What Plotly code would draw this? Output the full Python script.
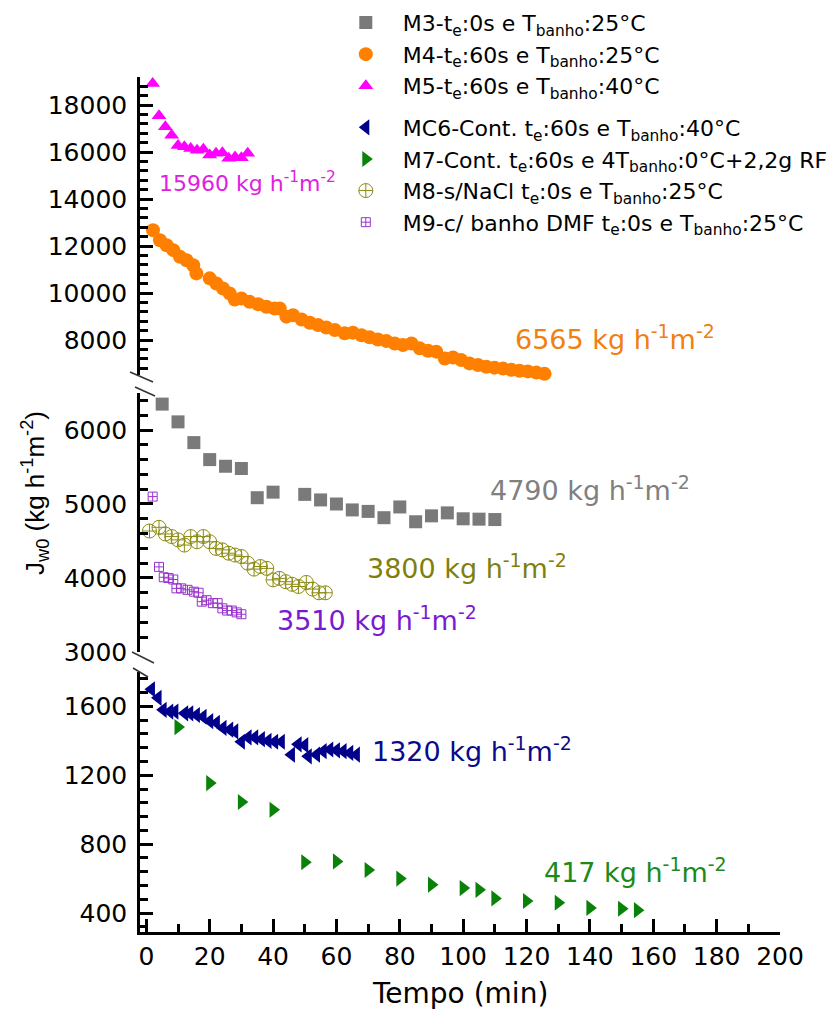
import plotly.graph_objects as go

# ---- series (time in min, flux in kg h^-1 m^-2) ----
m3_t = [5, 10, 15, 20, 25, 30, 35, 40, 50, 55, 60, 65, 70, 75, 80, 85, 90, 95, 100, 105, 110]
m3_v = [6350, 6110, 5830, 5600, 5510, 5480, 5085, 5160, 5130, 5055, 5000, 4920, 4900, 4815,
        4960, 4760, 4840, 4880, 4800, 4795, 4790]

m4_t = [2.1, 4.3, 6.4, 8.5, 10.6, 12.7, 14.8, 15.8, 20.0, 22.1, 24.2, 26.3, 27.9, 30.0, 32.6,
        35.3, 37.9, 40.5, 42.1, 44.2, 46.3, 49.0, 51.6, 54.2, 56.8, 59.5, 62.6, 65.2, 67.9,
        70.5, 73.1, 75.8, 78.4, 81.0, 83.7, 86.3, 88.9, 91.5, 94.2, 96.8, 99.4, 102.0, 104.7,
        107.3, 109.9, 112.6, 115.2, 117.8, 120.4, 123.1, 125.7]
m4_v = [12680, 12255, 12040, 11830, 11550, 11400, 11190, 10840, 10630, 10410, 10200, 9990,
        9730, 9770, 9630, 9530, 9420, 9350, 9350, 9000, 9060, 8880, 8740, 8640, 8540, 8430,
        8290, 8320, 8210, 8120, 8030, 7960, 7860, 7790, 7860, 7650, 7550, 7510, 7220, 7260,
        7150, 7010, 6940, 6870, 6830, 6790, 6740, 6700, 6670, 6620, 6565]

m5_t = [2, 4, 6, 8, 10, 12, 14, 16, 18, 20, 22, 24, 26, 28, 30, 32]
m5_v = [18920, 17550, 17080, 16720, 16280, 16230, 16160, 16080, 16120, 15880, 15950, 15980,
        15740, 15800, 15760, 15960]

mc6_t = [1.6, 3.7, 5.3, 7.4, 9.0, 12.1, 13.7, 15.8, 17.9, 20.0, 22.1, 24.2, 26.3, 27.9, 30.0,
         32.1, 34.2, 36.3, 38.4, 40.5, 42.6, 45.8, 47.9, 50.0, 51.1, 53.7, 55.8, 57.9, 60.0,
         62.1, 64.2, 66.3]
mc6_v = [1700, 1650, 1580, 1570, 1570, 1560, 1560, 1550, 1540, 1515, 1505, 1475, 1465, 1455,
         1395, 1420, 1420, 1410, 1400, 1395, 1395, 1320, 1380, 1375, 1310, 1320, 1340, 1350,
         1345, 1340, 1330, 1320]

m7_t = [10, 20, 30, 40, 50, 60, 70, 80, 90, 100, 105, 110, 120, 130, 140, 150, 155]
m7_v = [1480, 1155, 1045, 1000, 695, 700, 650, 600, 565, 545, 535, 485, 470, 460, 430, 425, 417]

m8_t = [1, 4, 6, 8, 10, 12, 14, 16, 18, 20, 22, 24, 26, 28, 30, 32, 34, 36, 38, 40, 42, 44,
        46, 48, 50.5, 52.5, 54.5, 56.5]
m8_v = [4635, 4685, 4595, 4560, 4515, 4445, 4560, 4490, 4560, 4490, 4400, 4380, 4335, 4310,
        4290, 4200, 4120, 4155, 4130, 3975, 3995, 3950, 3915, 3885, 3940, 3850, 3800, 3800]

m9_t = [2, 4, 5.5, 7, 8.5, 9.5, 11, 13, 15, 16.5, 17.5, 19, 21, 22.5, 24, 25.5, 27, 28.5, 30]
m9_v = [5100, 4150, 4010, 4000, 3980, 3860, 3860, 3840, 3815, 3800, 3680, 3700, 3660, 3660,
        3590, 3560, 3560, 3535, 3510]

names = [
    "M3-t<sub>e</sub>:0s e T<sub>banho</sub>:25°C",
    "M4-t<sub>e</sub>:60s e T<sub>banho</sub>:25°C",
    "M5-t<sub>e</sub>:60s e T<sub>banho</sub>:40°C",
    "MC6-Cont. t<sub>e</sub>:60s e T<sub>banho</sub>:40°C",
    "M7-Cont. t<sub>e</sub>:60s e 4T<sub>banho</sub>:0°C+2,2g RF",
    "M8-s/NaCl t<sub>e</sub>:0s e T<sub>banho</sub>:25°C",
    "M9-c/ banho DMF t<sub>e</sub>:0s e T<sub>banho</sub>:25°C",
]

# final (steady) flux labels
final_labels = ["15960", "6565", "4790", "3800", "3510", "1320", "417"]

FONT = "DejaVu Sans"

fig = go.Figure()

def add(t, v, name, yax, symbol, color, size, group, line=None):
    mk = dict(symbol=symbol, color=color, size=size, line=dict(width=0))
    if line:
        mk = dict(symbol=symbol, color=color, size=size, line=dict(width=line, color=color))
    fig.add_trace(go.Scatter(x=t, y=v, mode="markers", name=name, yaxis=yax, marker=mk,
                             legendgroup=group, cliponaxis=False))

add(m3_t, m3_v, names[0], "y2", "square", "#7a7a7a", 13, "a")
add(m4_t, m4_v, names[1], "y3", "circle", "#ff8000", 14, "a")
add(m5_t, m5_v, names[2], "y3", "triangle-up", "#ff00ff", 13, "a")
add(mc6_t, mc6_v, names[3], "y", "triangle-left", "#00008b", 14, "b")
add(m7_t, m7_v, names[4], "y", "triangle-right", "#0a820a", 14, "b")
add(m8_t, m8_v, names[5], "y2", "circle-cross-open", "#8c8c14", 14, "b", line=1)
add(m9_t, m9_v, names[6], "y2", "square-cross-open", "#9933cc", 9, "b", line=1)

axis_common = dict(showline=True, linewidth=2.5, linecolor="black", ticks="inside",
                   ticklen=13, tickwidth=2.5, tickcolor="black", showgrid=False,
                   zeroline=False, tickformat="d",
                   tickfont=dict(family=FONT, size=25, color="black"))

def minor(step):
    return dict(dtick=step, ticklen=8, tickwidth=2.5, tickcolor="black", ticks="inside")

fig.update_layout(
    width=832, height=1009,
    margin=dict(l=140, r=52, t=77, b=77, autoexpand=False),
    plot_bgcolor="white", paper_bgcolor="white",
    font=dict(family=FONT, color="black"),
    xaxis=dict(domain=[0, 1], range=[-2, 200], anchor="y", tickmode="linear", tick0=0, dtick=20,
               minor=minor(10), ticklabelstandoff=0, **axis_common),
    yaxis=dict(domain=[0, 0.3041], range=[290, 1800], anchor="x",
               tickmode="linear", tick0=0, dtick=400, minor=minor(80),
               ticklabelstandoff=5, **axis_common),
    yaxis2=dict(domain=[0.3275, 0.6304], range=[3000, 6500], anchor="x",
                tickmode="linear", tick0=0, dtick=1000, minor=minor(200),
                ticklabelstandoff=5, **axis_common),
    yaxis3=dict(domain=[0.651, 1.0], range=[6500, 19200], anchor="x",
                tickvals=list(range(8000, 18001, 2000)), minor=minor(400),
                ticklabelstandoff=5, **axis_common),
    legend=dict(x=0.295, y=1.088, xanchor="left", yanchor="top", bgcolor="rgba(0,0,0,0)",
                font=dict(family=FONT, size=22, color="black"), itemwidth=64,
                traceorder="grouped", tracegroupgap=10),
    showlegend=True,
)

# steady-state flux labels next to each series
unit = " kg h<sup>-1</sup>m<sup>-2</sup>"
label_specs = [
    (final_labels[0], 3.3, 14730, "y3", "#e020e0", 22),
    (final_labels[1], 115.6, 8130, "y3", "#f08010", 27),
    (final_labels[2], 107.7, 5216, "y2", "#808080", 27),
    (final_labels[3], 68.9, 4149, "y2", "#7f7f10", 27),
    (final_labels[4], 40.5, 3446, "y2", "#7a1ad0", 27),
    (final_labels[5], 70.5, 1347, "y", "#0a0a8c", 27),
    (final_labels[6], 124.8, 650, "y", "#1a8a1a", 27),
]
for txt, x, y, yref, col, sz in label_specs:
    fig.add_annotation(x=x, y=y, xref="x", yref=yref, text=txt + unit, showarrow=False,
                       xanchor="left", yanchor="middle",
                       font=dict(family=FONT, size=sz, color=col))

# axis titles
fig.add_annotation(x=(35 - 140) / 640, y=(932 - 493) / 855, xref="paper", yref="paper",
                   xanchor="center", yanchor="middle",
                   text="J<sub>w0</sub> (kg h<sup>-1</sup>m<sup>-2</sup>)", textangle=-90,
                   showarrow=False, font=dict(family="Liberation Sans", size=26, color="black"))
fig.add_annotation(x=(460 - 140) / 640, y=(932 - 993) / 855, xref="paper", yref="paper",
                   xanchor="center", yanchor="middle",
                   text="Tempo (min)", showarrow=False,
                   font=dict(family=FONT, size=28, color="black"))

# axis break marks
def px2paper(px, py):
    return (px - 140) / 640, (932 - py) / 855

for (x0, y0, x1, y1) in [(130, 372, 153, 382), (135, 387, 155, 396),
                         (132, 652, 154, 663), (133, 668, 148, 677)]:
    a0, b0 = px2paper(x0, y0)
    a1, b1 = px2paper(x1, y1)
    fig.add_shape(type="line", xref="paper", yref="paper", x0=a0, y0=b0, x1=a1, y1=b1,
                  line=dict(color="#333333", width=1.5))

fig.write_html("out.html")
